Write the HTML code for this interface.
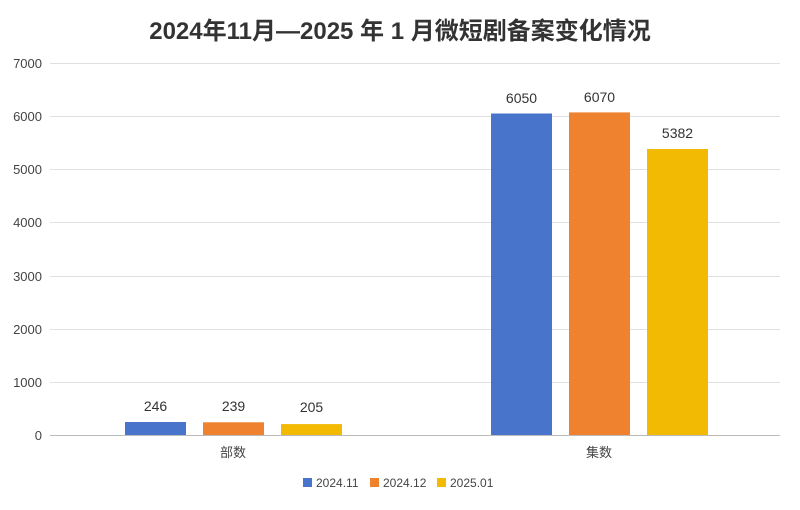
<!DOCTYPE html>
<html><head><meta charset="utf-8"><style>
body{margin:0;background:#fff;}
svg text{font-family:"Liberation Sans","Noto Sans CJK SC",sans-serif;}
</style></head><body>
<svg width="800" height="505" xmlns="http://www.w3.org/2000/svg">
<rect width="800" height="505" fill="#fff"/>
<text x="400" y="39" text-anchor="middle" font-size="24" font-weight="bold" fill="#333">2024年11月—2025 年 1 月微短剧备案变化情况</text>
<g stroke="#e0e0e0" stroke-width="1">
<line x1="50" x2="780" y1="63.5" y2="63.5"/>
<line x1="50" x2="780" y1="116.5" y2="116.5"/>
<line x1="50" x2="780" y1="169.5" y2="169.5"/>
<line x1="50" x2="780" y1="222.5" y2="222.5"/>
<line x1="50" x2="780" y1="276.5" y2="276.5"/>
<line x1="50" x2="780" y1="329.5" y2="329.5"/>
<line x1="50" x2="780" y1="382.5" y2="382.5"/>
</g>
<line x1="50" x2="780" y1="435.5" y2="435.5" stroke="#bbb"/>
<g font-size="13" fill="#444" text-anchor="end">
<text x="42" y="68">7000</text><text x="42" y="121">6000</text><text x="42" y="174">5000</text>
<text x="42" y="227">4000</text><text x="42" y="281">3000</text><text x="42" y="334">2000</text>
<text x="42" y="387">1000</text><text x="42" y="440">0</text>
</g>
<rect x="125" y="422" width="61" height="13" fill="#4874cb"/>
<rect x="203" y="422.3" width="61" height="12.7" fill="#ee822f"/>
<rect x="281" y="424.1" width="61" height="10.9" fill="#f2ba02"/>
<rect x="491" y="113.5" width="61" height="321.5" fill="#4874cb"/>
<rect x="569" y="112.4" width="61" height="322.6" fill="#ee822f"/>
<rect x="647" y="149" width="61" height="286" fill="#f2ba02"/>
<g font-size="14" fill="#333" text-anchor="middle">
<text x="155.5" y="411">246</text><text x="233.5" y="411">239</text><text x="311.5" y="412">205</text>
<text x="521.5" y="103">6050</text><text x="599.5" y="102">6070</text><text x="677.5" y="138">5382</text>
</g>
<g font-size="13" fill="#444" text-anchor="middle">
<text x="233" y="457">部数</text><text x="599" y="457">集数</text>
</g>
<g font-size="12" fill="#444">
<rect x="303" y="478" width="9" height="9" fill="#4874cb"/><text x="316" y="487">2024.11</text>
<rect x="370" y="478" width="9" height="9" fill="#ee822f"/><text x="383" y="487">2024.12</text>
<rect x="437" y="478" width="9" height="9" fill="#f2ba02"/><text x="450" y="487">2025.01</text>
</g>
</svg>
</body></html>
